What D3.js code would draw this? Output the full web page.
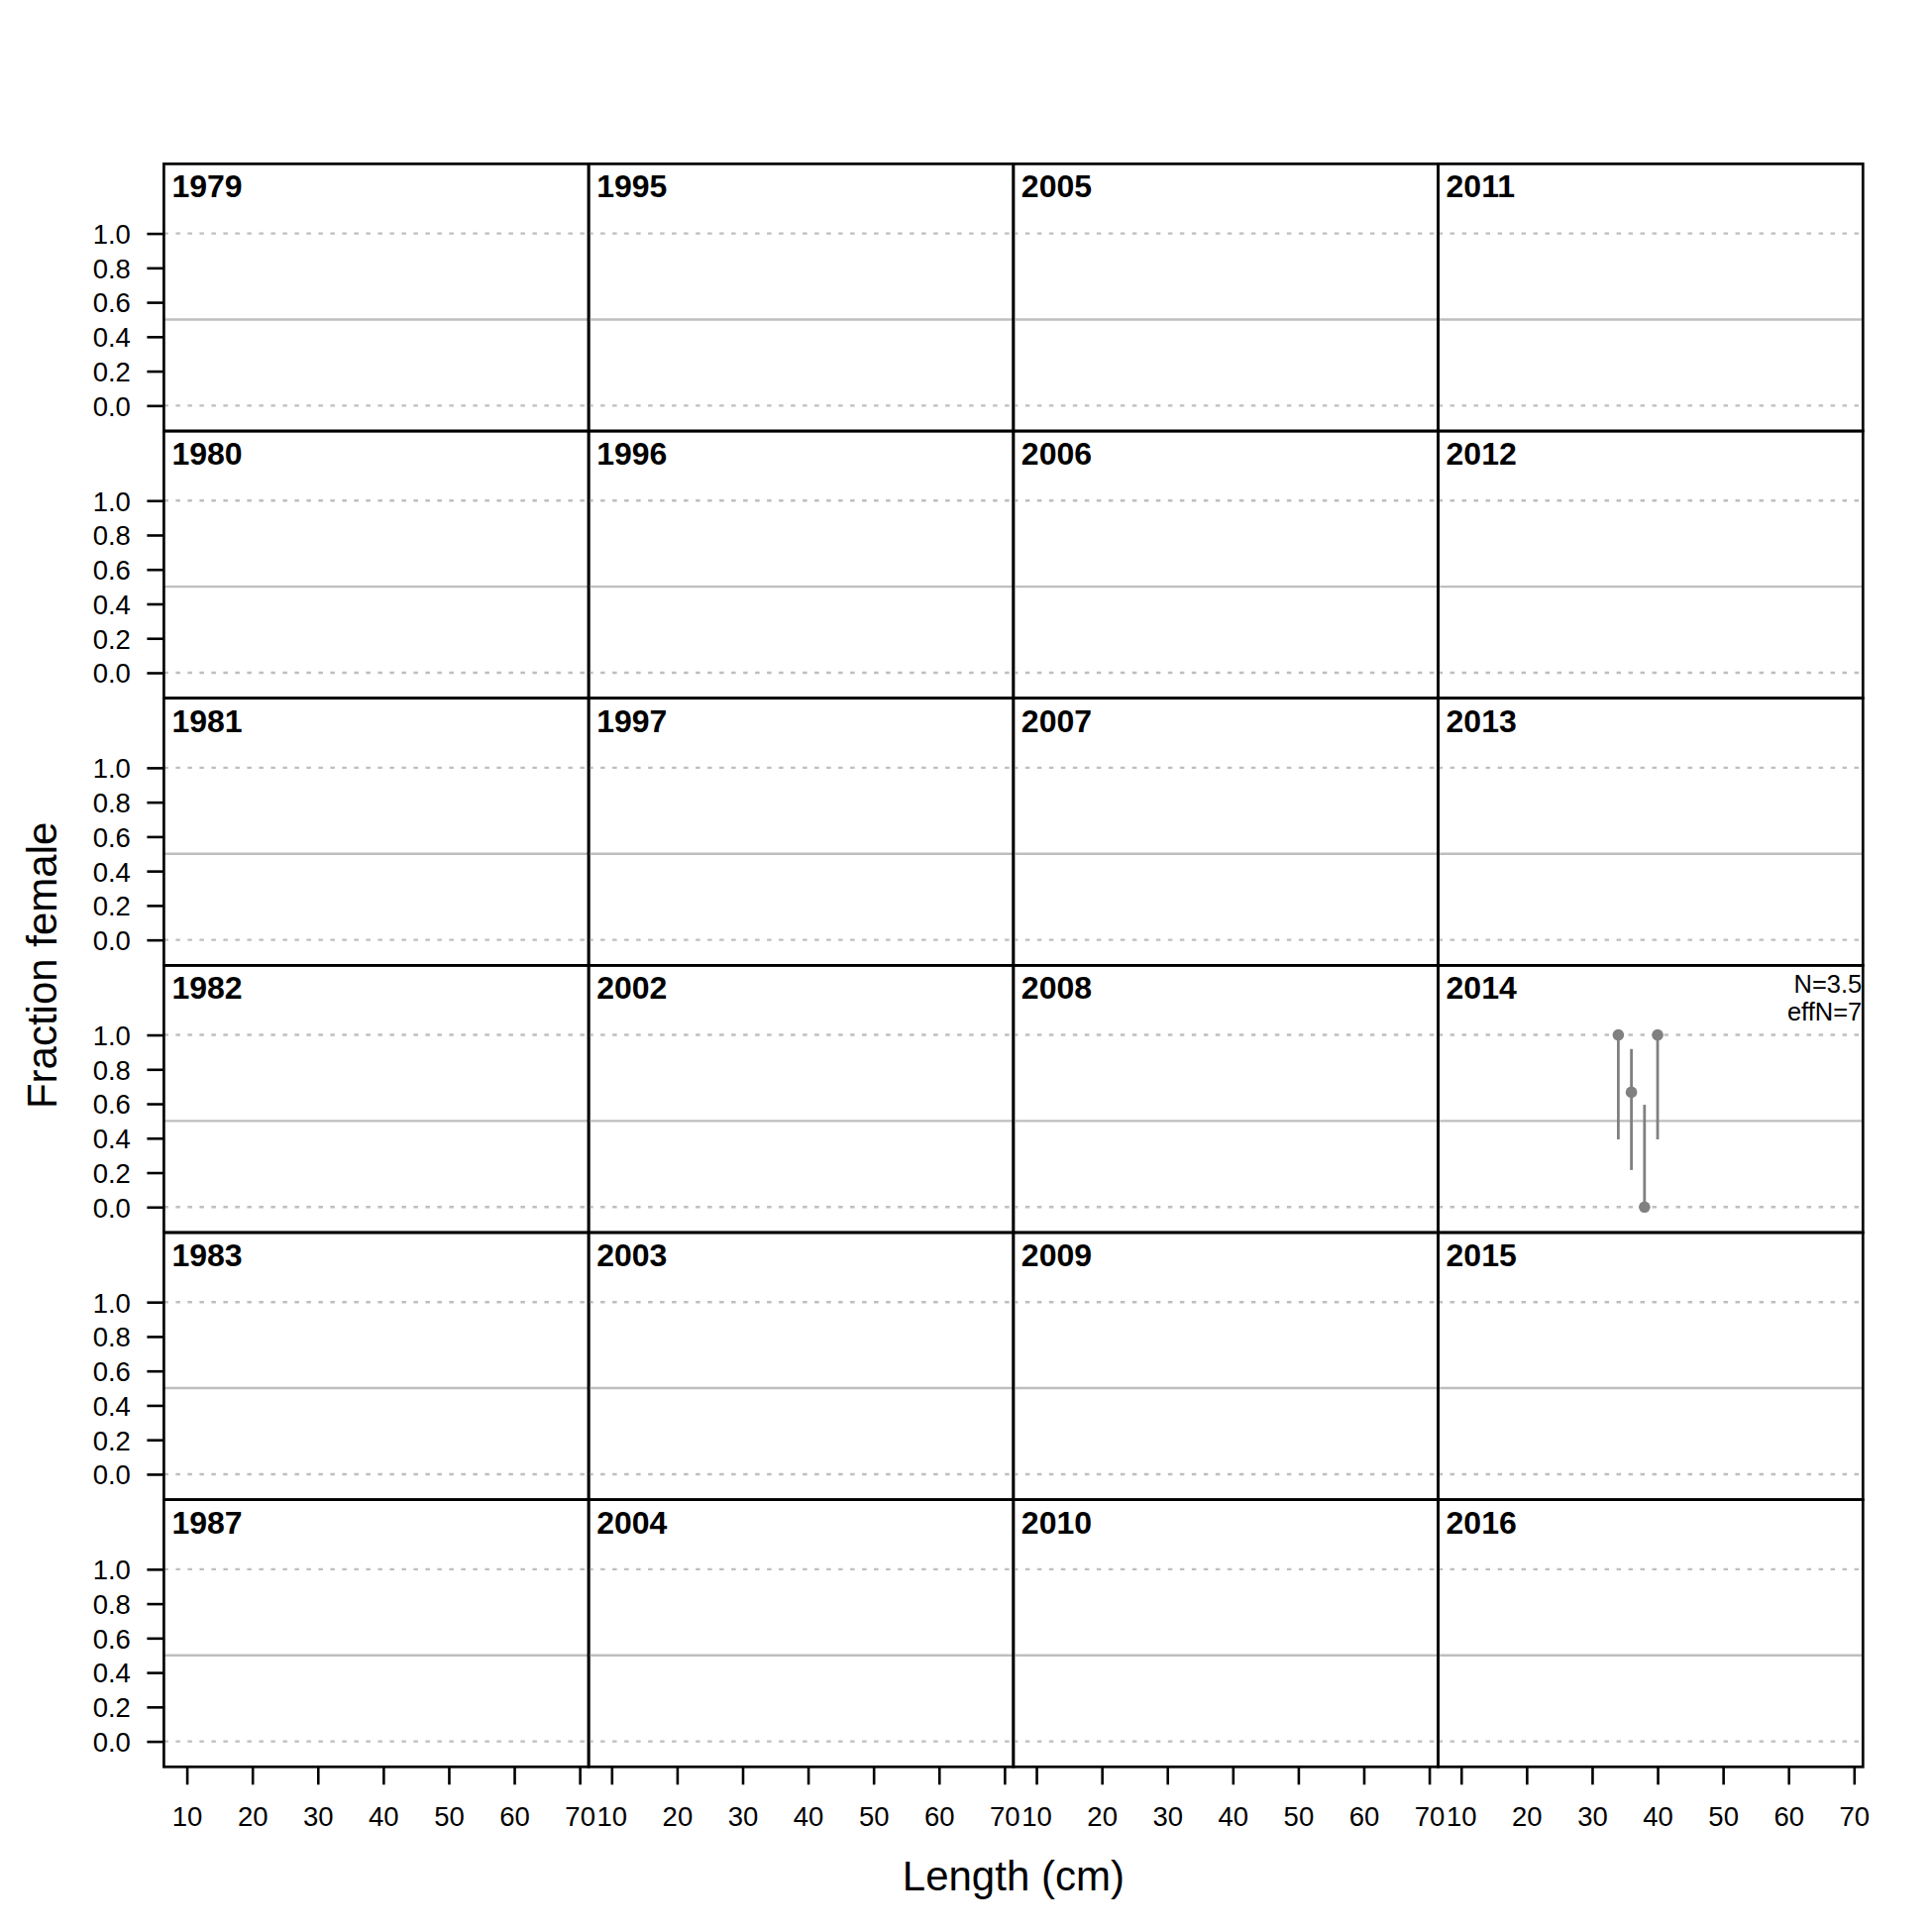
<!DOCTYPE html>
<html>
<head>
<meta charset="utf-8">
<script src="https://cdn.jsdelivr.net/npm/d3@7"></script>
<style>
  html, body { margin: 0; padding: 0; background: #ffffff; }
  svg { display: block; }
  text { font-family: "Liberation Sans", Arial, Helvetica, sans-serif; }
</style>
</head>
<body>
<svg id="chart" width="1950" height="1950"></svg>
<script>
// ---- Data ----
// Panel years, column-major (6 rows x 4 columns)
const panelYears = [1979, 1980, 1981, 1982, 1983, 1987,
                    1995, 1996, 1997, 2002, 2003, 2004,
                    2005, 2006, 2007, 2008, 2009, 2010,
                    2011, 2012, 2013, 2014, 2015, 2016];
// Observations (only year 2014 has data)
const obsYear   = [2014, 2014, 2014, 2014];
const obsLength = [34, 36, 38, 40];
const obsFrac   = [1.0, 0.667, 0.0, 1.0];
const obsLower  = [0.393, 0.215, 0.0, 0.393];
const obsUpper  = [1.0, 0.918, 0.594, 1.0];
// Sample size annotations
const nYears = [2014];
const nLabels = ["N=3.5"];
const effNLabels = ["effN=7"];
// Ticks
const xTicks = [10, 20, 30, 40, 50, 60, 70];
const yTicks = [0.0, 0.2, 0.4, 0.6, 0.8, 1.0];
const xLabel = "Length (cm)";
const yLabel = "Fraction female";

// ---- Layout ----
const nRows = 6, nCols = 4;
const mLeft = 165.4, mTop = 165.4, mRight = 1880.3, mBottom = 1783.3;
const pw = (mRight - mLeft) / nCols;
const ph = (mBottom - mTop) / nRows;

const svg = d3.select("#chart");
svg.append("rect").attr("width", 1950).attr("height", 1950).attr("fill", "#fff");

const x = d3.scaleLinear().domain([6.49, 71.36]).range([0, pw]);
const y = d3.scaleLinear().domain([-0.148, 1.404]).range([ph, 0]);

const obs = obsYear.map((yr, i) => ({ year: yr, len: obsLength[i], frac: obsFrac[i], lo: obsLower[i], hi: obsUpper[i] }));

panelYears.forEach((yr, idx) => {
  const col = Math.floor(idx / nRows);
  const row = idx % nRows;
  const g = svg.append("g").attr("transform", `translate(${mLeft + col * pw},${mTop + row * ph})`);

  // reference lines
  g.append("line").attr("x1", 0).attr("x2", pw).attr("y1", y(0.5)).attr("y2", y(0.5))
    .attr("stroke", "#bebebe").attr("stroke-width", 2.4);
  [0, 1].forEach(v => {
    g.append("line").attr("x1", 0).attr("x2", pw).attr("y1", y(v)).attr("y2", y(v))
      .attr("stroke", "#bebebe").attr("stroke-width", 2.4).attr("stroke-dasharray", "4.5,7.5");
  });

  // data
  const d = obs.filter(o => o.year === yr);
  g.selectAll("line.err").data(d).enter().append("line").attr("class", "err")
    .attr("x1", o => x(o.len)).attr("x2", o => x(o.len))
    .attr("y1", o => y(o.lo)).attr("y2", o => y(o.hi))
    .attr("stroke", "#808080").attr("stroke-width", 2.8);
  g.selectAll("circle.pt").data(d).enter().append("circle").attr("class", "pt")
    .attr("cx", o => x(o.len)).attr("cy", o => y(o.frac)).attr("r", 5.8)
    .attr("fill", "#808080");

  // year label
  g.append("text").attr("x", 8).attr("y", 34).attr("font-size", 32).attr("font-weight", "bold")
    .attr("fill", "#000").text(yr);

  // N labels
  const ni = nYears.indexOf(yr);
  if (ni >= 0) {
    g.append("text").attr("x", pw - 1).attr("y", 27.5).attr("font-size", 25.5).attr("text-anchor", "end")
      .text(nLabels[ni]);
    g.append("text").attr("x", pw - 1).attr("y", 56).attr("font-size", 25.5).attr("text-anchor", "end")
      .text(effNLabels[ni]);
  }

  // y axis
  if (col === 0) {
    const ay = g.append("g").call(d3.axisLeft(y).tickValues(yTicks).tickFormat(d3.format(".1f"))
      .tickSize(17).tickPadding(16.5));
    ay.select(".domain").remove();
    ay.selectAll("line").attr("stroke", "#000").attr("stroke-width", 2.6);
    ay.selectAll("text").attr("font-size", 27.5).attr("dy", "0.36em").attr("fill", "#000")
      .attr("font-family", "Liberation Sans, Arial, sans-serif");
  }
  // x axis
  if (row === nRows - 1) {
    const ax = g.append("g").attr("transform", `translate(0,${ph})`)
      .call(d3.axisBottom(x).tickValues(xTicks).tickFormat(d3.format("d")).tickSize(18).tickPadding(22));
    ax.select(".domain").remove();
    ax.selectAll("line").attr("stroke", "#000").attr("stroke-width", 2.6);
    ax.selectAll("text").attr("font-size", 27.5).attr("fill", "#000")
      .attr("font-family", "Liberation Sans, Arial, sans-serif");
  }

  // border
  g.append("rect").attr("x", 0).attr("y", 0).attr("width", pw).attr("height", ph)
    .attr("fill", "none").attr("stroke", "#000").attr("stroke-width", 2.7);
});

// axis titles
svg.append("text").attr("x", (mLeft + mRight) / 2).attr("y", 1908).attr("text-anchor", "middle")
  .attr("font-size", 42).text(xLabel);
svg.append("text").attr("transform", `translate(57,${(mTop + mBottom) / 2}) rotate(-90)`)
  .attr("text-anchor", "middle").attr("font-size", 42).text(yLabel);
</script>
</body>
</html>
